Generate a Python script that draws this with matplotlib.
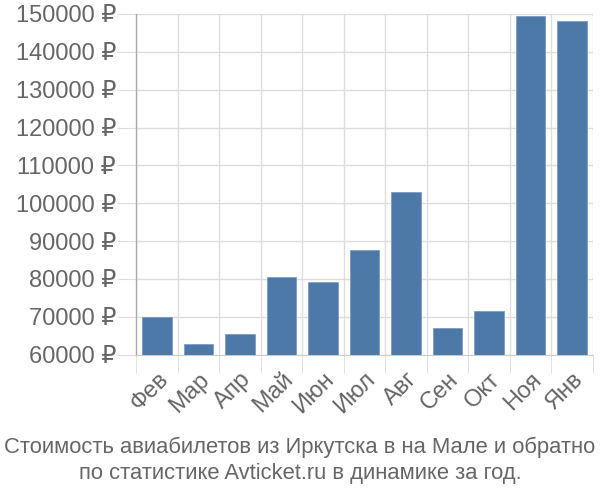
import matplotlib
matplotlib.use("Agg")
import matplotlib.pyplot as plt
import numpy as np

plt.rcParams['font.family'] = ['Liberation Sans', 'DejaVu Sans']

months = ["Фев", "Мар", "Апр", "Май", "Июн", "Июл", "Авг", "Сен", "Окт", "Ноя", "Янв"]
prices = [70000, 62700, 65500, 80600, 79200, 87650, 103000, 66900, 71500, 149600, 148200]
yticks = [60000, 70000, 80000, 90000, 100000, 110000, 120000, 130000, 140000, 150000]
caption = "Стоимость авиабилетов из Иркутска в на Мале и обратно\nпо статистике Avticket.ru в динамике за год."

fig = plt.figure(figsize=(6, 5), dpi=100)
ax = fig.add_axes([0.227, 0.291, 0.761, 0.681])

x = np.arange(len(months))
ax.bar(x, [p - 60000 for p in prices], bottom=60000, width=0.72, color="#4d79a8",
       edgecolor="#7a9cc4", linewidth=0.6, zorder=3)

ax.set_xlim(-0.5, len(months) - 0.5)
ax.set_ylim(60000, 150000)
ax.set_yticks(yticks)
ax.set_yticklabels([f"{v} ₽" for v in yticks])
ax.set_xticks(x)
ax.set_xticklabels(months, rotation=45, ha="right", rotation_mode="anchor")
ax.set_xticks(np.arange(len(months) + 1) - 0.5, minor=True)

ax.grid(True, which="major", axis="y", color="#dddddd", linewidth=1, zorder=0)
ax.grid(True, which="minor", axis="x", color="#dddddd", linewidth=1, zorder=0)
ax.tick_params(axis="x", which="major", length=0, labelsize=17, labelcolor="#666666", pad=10)
ax.tick_params(axis="x", which="minor", length=13, color="#dddddd")
ax.tick_params(axis="y", length=13.5, color="#dddddd", labelsize=17, labelcolor="#666666", pad=1)
minor_ticks = ax.xaxis.get_minor_ticks()
minor_ticks[0].tick1line.set_color("#aaaaaa")

for s in ["top", "right"]:
    ax.spines[s].set_visible(False)
ax.spines["left"].set_color("#aaaaaa")
ax.spines["bottom"].set_color("#cccccc")
ax.spines["left"].set_linewidth(1)

fig.text(0.5, 0.08, caption, ha="center", va="center", fontsize=15.8,
         color="#666666", linespacing=1.32)

fig.savefig("out.png", dpi=100)
